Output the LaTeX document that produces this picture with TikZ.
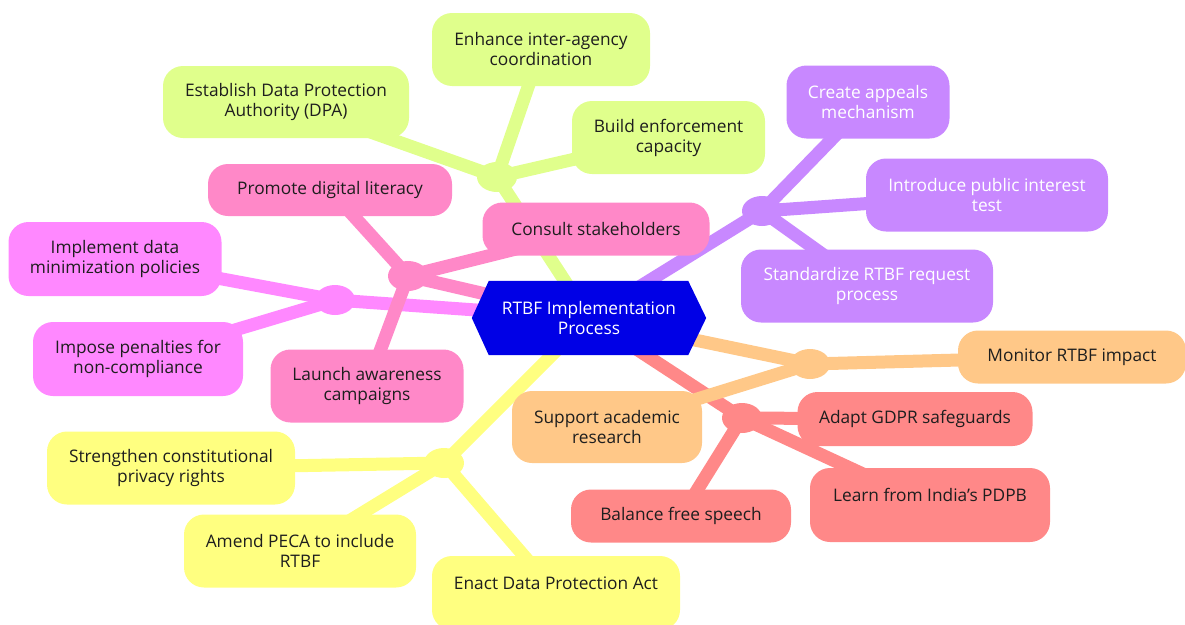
\documentclass[tikz,border=0pt]{standalone}
\usepackage{fontspec}
\setmainfont{Open Sans}
\usetikzlibrary{backgrounds,shapes.geometric}

\definecolor{cgreen}{HTML}{E0FF8C}
\definecolor{cpink}{HTML}{FF88C8}
\definecolor{cmagenta}{HTML}{FF88FF}
\definecolor{cpurple}{HTML}{C888FF}
\definecolor{corange}{HTML}{FFC888}
\definecolor{cred}{HTML}{FF8888}
\definecolor{cyellow}{HTML}{FFFF80}
\definecolor{cblue}{HTML}{0000E6}
\definecolor{textdark}{HTML}{1E1E1E}

\tikzset{
  box/.style={rounded corners=20pt, align=center, text=textdark, inner sep=0pt,
    font=\fontsize{17.3}{20}\selectfont},
  lightbox/.style={box, text=white},
  rootbox/.style={align=center, text=white, inner sep=0pt,
    minimum width=234pt, minimum height=74pt, font=\fontsize{17.3}{20}\selectfont},
  hub/.style={ellipse, minimum width=40pt, minimum height=30pt, inner sep=0pt},
  link/.style={line width=13pt},
}

\begin{document}
\begin{tikzpicture}[x=1pt,y=-1pt]
\useasboundingbox (0,0) rectangle (1185,624);

% central topic
\node[rootbox] (root) at (589,318) {RTBF Implementation\\Process};

% branch hubs
\node[hub, fill=cgreen]   (hgreen)   at (497,177) {};
\node[hub, fill=cpink]    (hpink)    at (408,276) {};
\node[hub, fill=cmagenta] (hmagenta) at (335,300) {};
\node[hub, fill=cpurple]  (hpurple)  at (762,211) {};
\node[hub, fill=corange]  (horange)  at (810,364) {};
\node[hub, fill=cred]     (hred)     at (742,418) {};
\node[hub, fill=cyellow]  (hyellow)  at (444,463) {};

% institutional branch
\node[box, fill=cgreen, minimum width=218pt, minimum height=73pt] (enhance) at (541,49.5) {Enhance inter-agency\\coordination};
\node[box, fill=cgreen, minimum width=246pt, minimum height=72pt] (dpa) at (286,102) {Establish Data Protection\\Authority (DPA)};
\node[box, fill=cgreen, minimum width=193pt, minimum height=73pt] (build) at (668.5,137.5) {Build enforcement\\capacity};

% awareness branch
\node[box, fill=cpink, minimum width=244pt, minimum height=52pt] (promote) at (330,190) {Promote digital literacy};
\node[box, fill=cpink, minimum width=227pt, minimum height=53pt] (consult) at (596,229) {Consult stakeholders};
\node[box, fill=cpink, minimum width=193pt, minimum height=73pt] (launch) at (367,386) {Launch awareness\\campaigns};

% data handling branch
\node[box, fill=cmagenta, minimum width=213pt, minimum height=74pt] (minim) at (115,259) {Implement data\\minimization policies};
\node[box, fill=cmagenta, minimum width=210pt, minimum height=74pt] (penal) at (138,359) {Impose penalties for\\non-compliance};

% procedure branch
\node[lightbox, fill=cpurple, minimum width=163pt, minimum height=73pt] (appeals) at (868,102) {Create appeals\\mechanism};
\node[lightbox, fill=cpurple, minimum width=242pt, minimum height=73pt] (pubint) at (987,195) {Introduce public interest\\test};
\node[lightbox, fill=cpurple, minimum width=252pt, minimum height=73pt] (stdreq) at (867,286) {Standardize RTBF request\\process};

% evaluation branch
\node[box, fill=corange, minimum width=228pt, minimum height=53pt] (monitor) at (1072,357) {Monitor RTBF impact};
\node[box, fill=corange, minimum width=190pt, minimum height=72pt] (research) at (607,427) {Support academic\\research};

% comparative branch
\node[box, fill=cred, minimum width=235pt, minimum height=54pt] (gdpr) at (915,419) {Adapt GDPR safeguards};
\node[box, fill=cred, minimum width=240pt, minimum height=74pt] (pdpb) at (930,505) {Learn from India’s PDPB\\\mbox{}};
\node[box, fill=cred, minimum width=220pt, minimum height=53pt] (speech) at (681,516) {Balance free speech};

% legal branch
\node[box, fill=cyellow, minimum width=248pt, minimum height=73pt] (constit) at (171,468) {Strengthen constitutional\\privacy rights};
\node[box, fill=cyellow, minimum width=232pt, minimum height=73pt] (peca) at (300,551) {Amend PECA to include\\RTBF};
\node[box, fill=cyellow, minimum width=248pt, minimum height=74pt] (dpact) at (556,593) {Enact Data Protection Act\\\mbox{}};

\begin{scope}[on background layer]
  % connectors run centre to centre and are covered by the shapes
  \draw[link, cyellow] (hyellow.center) -- (root.center);
  \draw[link, cyellow] (hyellow.center) -- (constit.center);
  \draw[link, cyellow] (hyellow.center) -- (peca.center);
  \draw[link, cyellow] (hyellow.center) -- (dpact.center);

  \draw[link, cgreen] (hgreen.center) -- (root.center);
  \draw[link, cgreen] (hgreen.center) -- (enhance.center);
  \draw[link, cgreen] (hgreen.center) -- (dpa.center);
  \draw[link, cgreen] (hgreen.center) -- (build.center);

  \draw[link, cmagenta] (hmagenta.center) -- (root.center);
  \draw[link, cmagenta] (hmagenta.center) -- (minim.center);
  \draw[link, cmagenta] (hmagenta.center) -- (penal.center);

  \draw[link, cpink] (hpink.center) -- (root.center);
  \draw[link, cpink] (hpink.center) -- (promote.center);
  \draw[link, cpink] (hpink.center) -- (consult.center);
  \draw[link, cpink] (hpink.center) -- (launch.center);

  \draw[link, cpurple] (hpurple.center) -- (root.center);
  \draw[link, cpurple] (hpurple.center) -- (appeals.center);
  \draw[link, cpurple] (hpurple.center) -- (pubint.center);
  \draw[link, cpurple] (hpurple.center) -- (stdreq.center);

  \draw[link, cred] (hred.center) -- (root.center);
  \draw[link, cred] (hred.center) -- (gdpr.center);
  \draw[link, cred] (hred.center) -- (pdpb.center);
  \draw[link, cred] (hred.center) -- (speech.center);

  \draw[link, corange] (horange.center) -- (root.center);
  \draw[link, corange] (horange.center) -- (monitor.center);
  \draw[link, corange] (horange.center) -- (research.center);

  % hexagonal backdrop of the central topic
  \fill[cblue] (root.west) -- ([xshift=17pt]root.north west) -- ([xshift=-18pt]root.north east)
    -- (root.east) -- ([xshift=-18pt]root.south east) -- ([xshift=17pt]root.south west) -- cycle;
\end{scope}
\end{tikzpicture}
\end{document}
